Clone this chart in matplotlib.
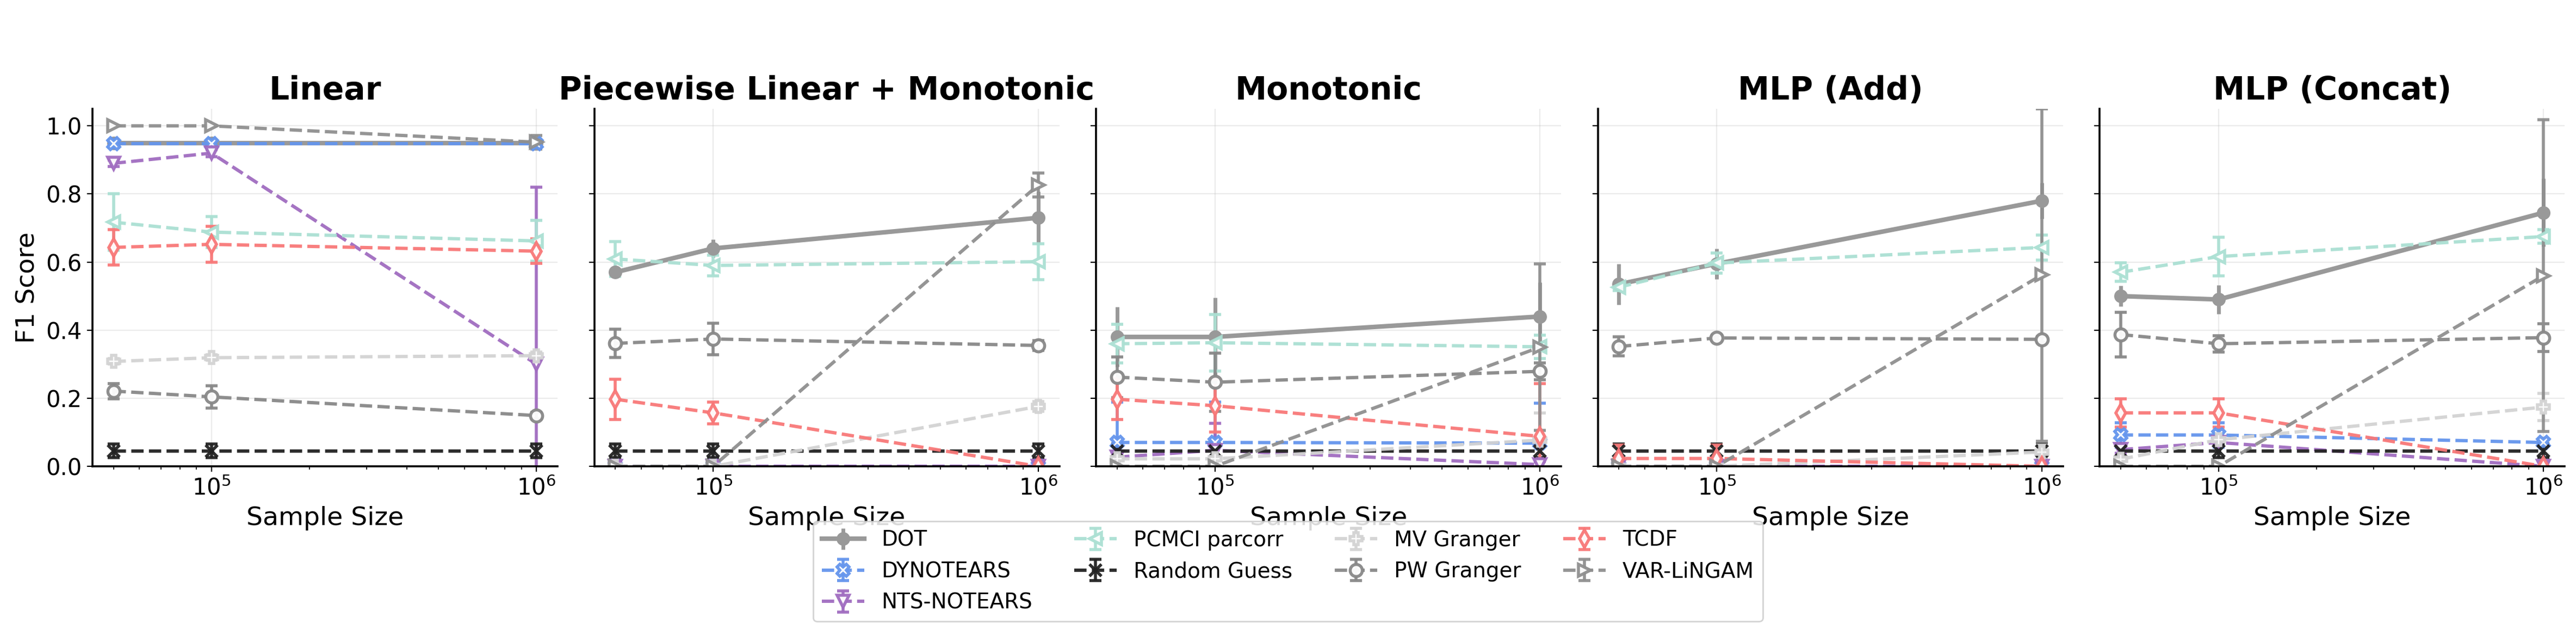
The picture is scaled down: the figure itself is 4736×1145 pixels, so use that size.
import numpy as np
import matplotlib.pyplot as plt

# sample sizes (shared by all panels)
sizes = [5e4, 1e5, 1e6]
panels = ['Linear', 'Piecewise Linear + Monotonic', 'Monotonic', 'MLP (Add)', 'MLP (Concat)']

# one row per panel, 3 values per row (5e4, 1e5, 1e6)
dot_mean = [[0.95, 0.95, 0.95], [0.57, 0.64, 0.73], [0.38, 0.38, 0.44], [0.535, 0.595, 0.78], [0.50, 0.49, 0.745]]
dot_err = [[0.015, 0.015, 0.01], [0.015, 0.027, 0.077], [0.088, 0.115, 0.10], [0.06, 0.045, 0.052], [0.03, 0.043, 0.10]]

dyno_mean = [[0.948, 0.948, 0.948], [0, 0, 0], [0.07, 0.07, 0.068], [0, 0, 0], [0.092, 0.092, 0.07]]
dyno_err = [[0.01, 0.01, 0.01], [0, 0, 0], [0.118, 0.118, 0.118], [0, 0, 0], [0.036, 0.036, 0.01]]

nts_mean = [[0.89, 0.92, 0.30], [0, 0, 0], [0.027, 0.047, 0.005], [0, 0, 0], [0.049, 0.07, 0.0]]
nts_err = [[0.01, 0.01, 0.52], [0, 0, 0], [0.01, 0.08, 0.01], [0, 0, 0], [0.01, 0.01, 0.0]]

pcmci_mean = [[0.717, 0.688, 0.662], [0.609, 0.59, 0.601], [0.36, 0.363, 0.351], [0.526, 0.597, 0.643], [0.57, 0.616, 0.675]]
pcmci_err = [[0.083, 0.045, 0.06], [0.051, 0.03, 0.053], [0.057, 0.083, 0.035], [0.01, 0.03, 0.037], [0.027, 0.057, 0.02]]

rand_mean = [[0.045, 0.045, 0.045]] * 5
rand_err = [[0.02, 0.02, 0.02]] * 5

mvg_mean = [[0.308, 0.319, 0.325], [0, 0, 0.176], [0.022, 0.022, 0.077], [0, 0, 0.042], [0.021, 0.078, 0.174]]
mvg_err = [[0.008, 0.008, 0.01], [0, 0, 0.015], [0.005, 0.005, 0.08], [0, 0, 0.02], [0.005, 0.005, 0.04]]

pwg_mean = [[0.221, 0.204, 0.149], [0.361, 0.374, 0.355], [0.262, 0.247, 0.279], [0.352, 0.377, 0.373], [0.387, 0.36, 0.378]]
pwg_err = [[0.022, 0.033, 0.01], [0.041, 0.046, 0.015], [0.06, 0.085, 0.025], [0.028, 0.008, 0.008], [0.065, 0.024, 0.041]]

tcdf_mean = [[0.643, 0.652, 0.632], [0.197, 0.157, 0.0], [0.197, 0.178, 0.088], [0.023, 0.023, 0.0], [0.157, 0.157, 0.0]]
tcdf_err = [[0.052, 0.053, 0.036], [0.059, 0.032, 0.0], [0.06, 0.077, 0.155], [0.04, 0.04, 0.0], [0.042, 0.042, 0.0]]

var_mean = [[1.0, 1.0, 0.952], [0, 0, 0.826], [0, 0, 0.35], [0, 0, 0.562], [0, 0, 0.56]]
var_err = [[0.0, 0.0, 0.02], [0, 0, 0.035], [0, 0, 0.245], [0, 0, 0.488], [0, 0, 0.458]]

# name, means, errs, color, marker, linestyle
methods = [
    ('DOT', dot_mean, dot_err, '#999999', 'o', '-'),
    ('DYNOTEARS', dyno_mean, dyno_err, '#6495ed', 'X', '--'),
    ('NTS-NOTEARS', nts_mean, nts_err, '#a06cc0', 'v', '--'),
    ('PCMCI parcorr', pcmci_mean, pcmci_err, '#abe0d3', '<', '--'),
    ('Random Guess', rand_mean, rand_err, '#222222', 'x', '--'),
    ('MV Granger', mvg_mean, mvg_err, '#d3d3d3', 'P', '--'),
    ('PW Granger', pwg_mean, pwg_err, '#888888', 'o', '--'),
    ('TCDF', tcdf_mean, tcdf_err, '#f87878', 'd', '--'),
    ('VAR-LiNGAM', var_mean, var_err, '#8f8f8f', '>', '--'),
]

fig, axes = plt.subplots(1, 5, figsize=(23.68, 5.725), dpi=200, sharey=True)
fig.subplots_adjust(left=0.0359, right=0.9956, bottom=0.2515, top=0.8253, wspace=0.079)

for i, ax in enumerate(axes):
    for name, mean, err, col, mk, ls in methods:
        if name == 'DOT':
            ax.errorbar(sizes, mean[i], yerr=err[i], label=name, color=col, marker=mk, ls=ls,
                        lw=3, ms=8, capsize=0, elinewidth=2.5)
        else:
            ax.errorbar(sizes, mean[i], yerr=err[i], label=name, color=col, marker=mk, ls=ls,
                        lw=2.2, ms=8, mfc='white', mec=col, mew=2,
                        capsize=4, capthick=2, elinewidth=2, alpha=0.95)
    ax.set_xscale('log')
    ax.set_ylim(0, 1.05)
    ax.set_yticks([0, 0.2, 0.4, 0.6, 0.8, 1.0])
    ax.set_title(panels[i], fontsize=21, fontweight='bold')
    ax.set_xlabel('Sample Size', fontsize=17)
    ax.tick_params(labelsize=15)
    ax.grid(True, alpha=0.25)
    ax.spines['top'].set_visible(False)
    ax.spines['right'].set_visible(False)
    ax.spines['left'].set_linewidth(1.3)
    ax.spines['bottom'].set_linewidth(1.3)

axes[0].set_ylabel('F1 Score', fontsize=17)

handles, labels = axes[0].get_legend_handles_labels()
fig.legend(handles, labels, loc='upper center', bbox_to_anchor=(0.5, 0.18), ncol=4,
           fontsize=14, framealpha=0.85, edgecolor='#cccccc')

plt.savefig('out.png')
